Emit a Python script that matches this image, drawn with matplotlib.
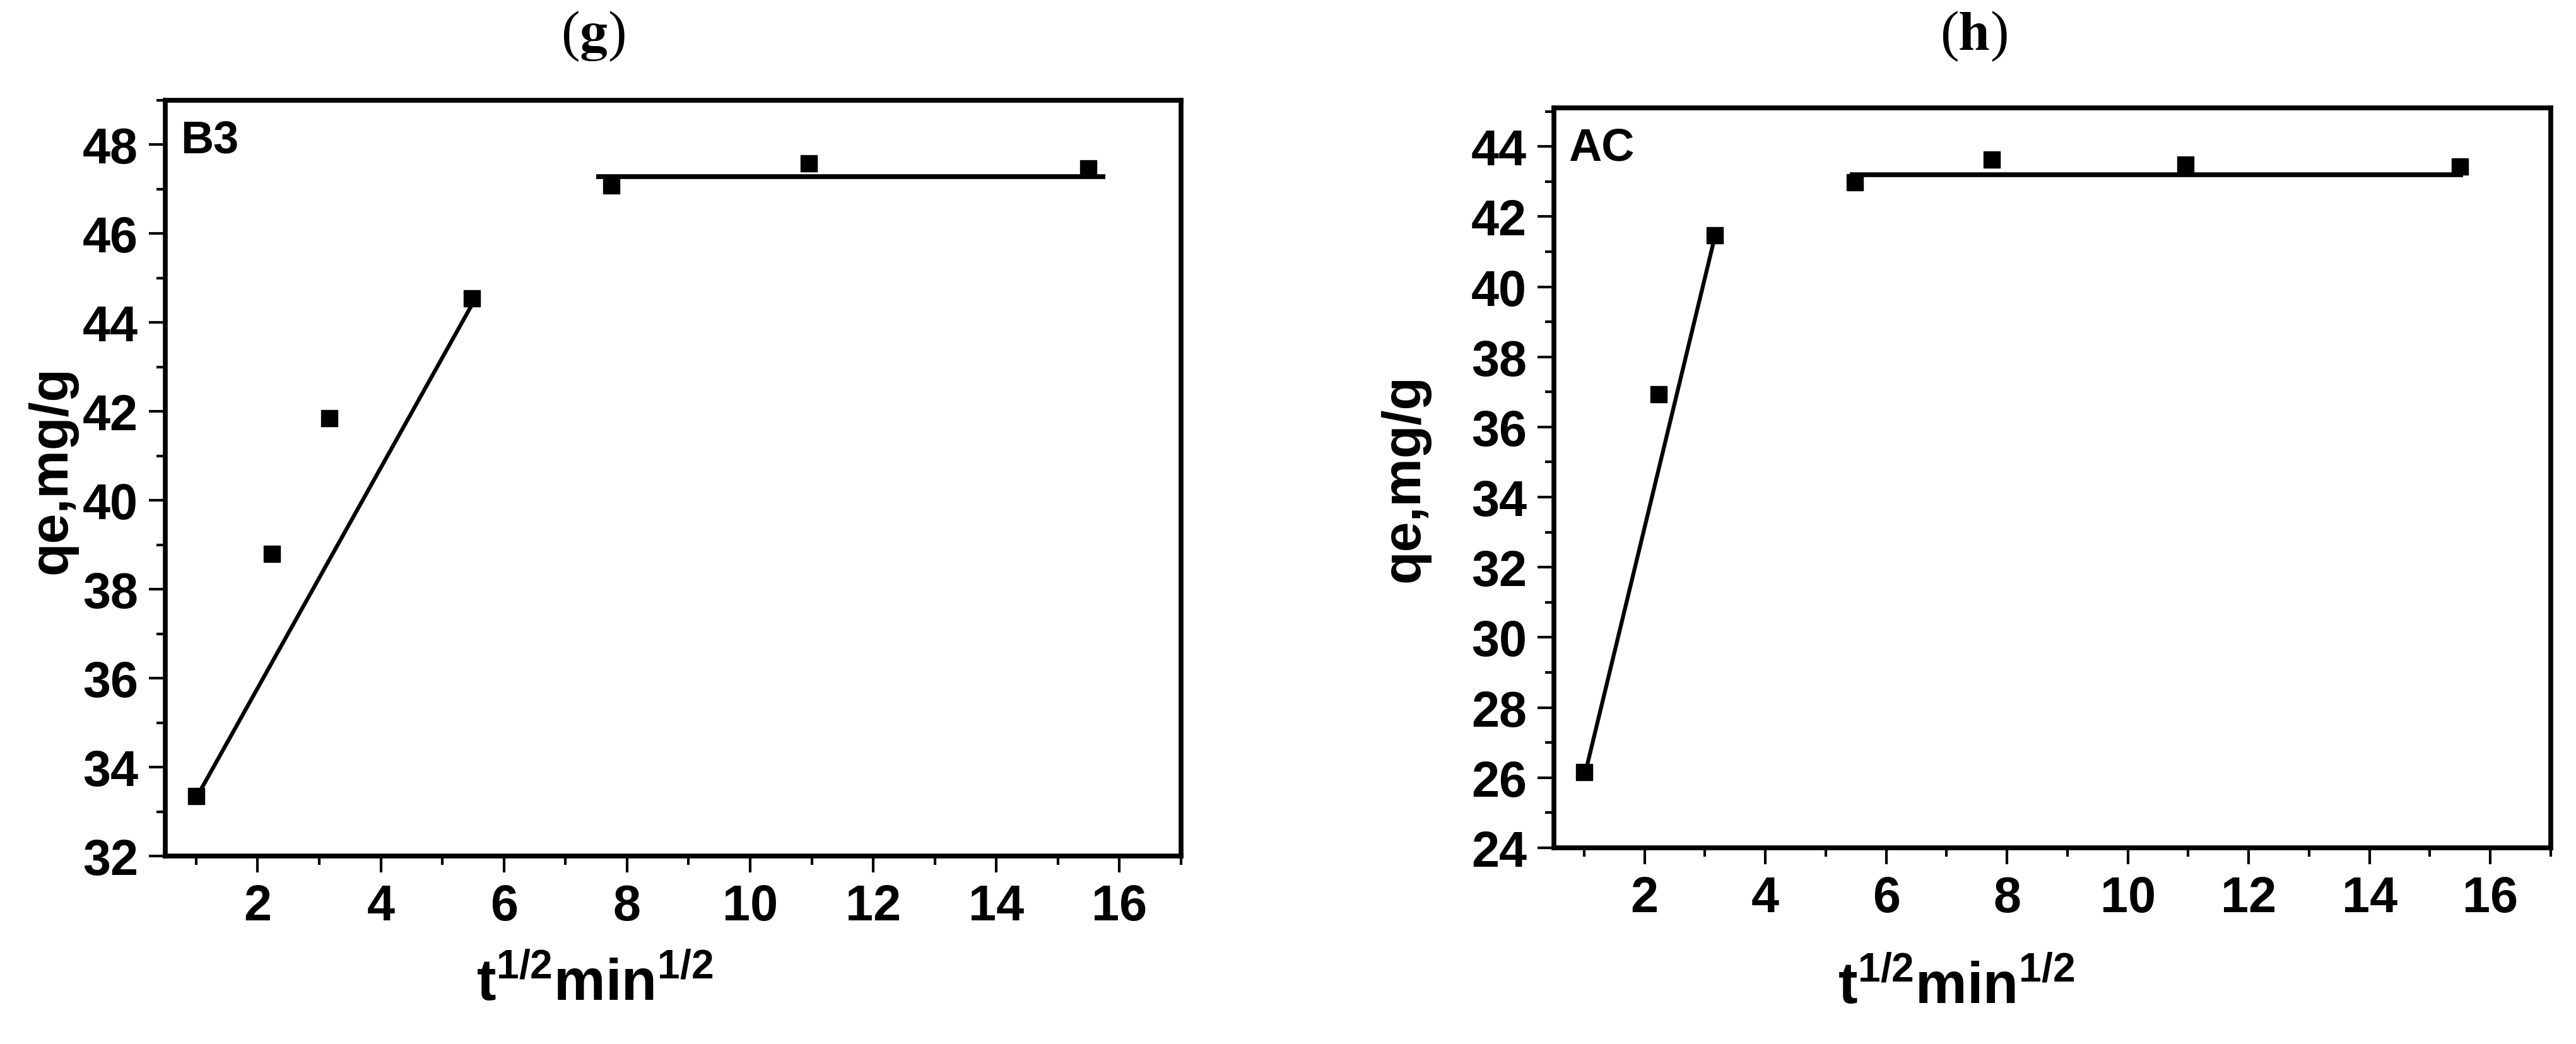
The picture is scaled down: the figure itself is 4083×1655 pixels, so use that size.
import matplotlib
matplotlib.use("Agg")
import matplotlib.pyplot as plt
from matplotlib.ticker import MultipleLocator

# ---------------- data ----------------
t_sqrt = [1.0, 2.236, 3.162, 5.477, 7.746, 10.954, 15.492]

qe_B3 = [33.35, 38.80, 41.85, 44.55, 47.08, 47.58, 47.47]
qe_AC = [26.16, 36.94, 41.46, 42.98, 43.62, 43.49, 43.43]

# fitted line segments
fitB3_1_x = [1.0, 5.48]
fitB3_1_y = [33.3, 44.4]
fitB3_2_x = [7.5, 15.77]
fitB3_2_y = [47.29, 47.29]

fitAC_1_x = [1.0, 3.16]
fitAC_1_y = [26.0, 41.4]
fitAC_2_x = [5.4, 15.55]
fitAC_2_y = [43.2, 43.2]

panel_titles = ["g", "h"]
sample_names = ["B3", "AC"]
ylims = [(32, 49), (24, 45.1)]
xlim = (0.5, 17)

# ---------------- figure ----------------
plt.rcParams["mathtext.fontset"] = "custom"
plt.rcParams["mathtext.bf"] = "Liberation Sans:bold"
plt.rcParams["mathtext.rm"] = "Liberation Sans"
plt.rcParams["mathtext.it"] = "Liberation Sans:italic"

W, H = 4083, 1656
DPI = 100
fig = plt.figure(figsize=(W / DPI, H / DPI), dpi=DPI)
fig.patch.set_facecolor("white")

SANS = "Liberation Sans"


def fx(px):
    return px / W


def fy(py):
    return 1 - py / H


# axes boxes in pixels (left, top, right, bottom)
boxes = [(262, 160, 1872, 1358), (2463, 172, 4043, 1345)]

series = [
    (qe_B3, [(fitB3_1_x, fitB3_1_y, 4.5), (fitB3_2_x, fitB3_2_y, 5.5)]),
    (qe_AC, [(fitAC_1_x, fitAC_1_y, 4.5), (fitAC_2_x, fitAC_2_y, 5.5)]),
]

title_pos = [(940, 58), (3128, 58)]
xlabel_pos = [(943, 1560), (3101, 1565)]
ylabel_pos = [(83, 745), (2226, 758)]

for i, (l, t, r, b) in enumerate(boxes):
    ax = fig.add_axes([fx(l), fy(b), fx(r) - fx(l), fy(t) - fy(b)])
    qe, fits = series[i]
    for fxs, fys, lw in fits:
        ax.plot(fxs, fys, color="black", lw=lw, solid_capstyle="butt", zorder=2)
    ax.plot(t_sqrt, qe, linestyle="none", marker="s", markersize=19,
            color="black", zorder=3)

    ax.set_xlim(*xlim)
    ax.set_ylim(*ylims[i])
    ax.xaxis.set_major_locator(MultipleLocator(2))
    ax.xaxis.set_minor_locator(MultipleLocator(1))
    ax.yaxis.set_major_locator(MultipleLocator(2))
    ax.yaxis.set_minor_locator(MultipleLocator(1))
    ax.set_xticks([2, 4, 6, 8, 10, 12, 14, 16])

    for sp in ax.spines.values():
        sp.set_linewidth(5.5)
        sp.set_color("black")

    ax.tick_params(axis="both", which="major", direction="out", length=19,
                   width=3, pad=12, labelsize=57, colors="black")
    ax.tick_params(axis="both", which="minor", direction="out", length=10,
                   width=3)
    ax.tick_params(top=False, right=False, which="both")
    for lab in ax.get_xticklabels() + ax.get_yticklabels():
        lab.set_fontfamily(SANS)
        lab.set_fontweight("bold")

    ax.text(0.015, 0.975, sample_names[i], transform=ax.transAxes,
            ha="left", va="top", fontsize=52, fontweight="bold",
            family=SANS)

    # title
    tx, ty = title_pos[i]
    fig.text(fx(tx), fy(ty), r"($\mathbf{" + panel_titles[i] + r"}$)",
             ha="center", va="center", fontsize=64,
             family="Liberation Serif", math_fontfamily="stix")

    # x label
    lx, ly = xlabel_pos[i]
    fig.text(fx(lx), fy(ly), r"$\mathbf{t^{1/2}min^{1/2}}$",
             ha="center", va="center", fontsize=66)

    # y label
    yx, yy = ylabel_pos[i]
    fig.text(fx(yx), fy(yy), "qe,mg/g", rotation=90, ha="center",
             va="center", fontsize=62, fontweight="bold", family=SANS)

fig.savefig("out.png", dpi=DPI, facecolor="white")
